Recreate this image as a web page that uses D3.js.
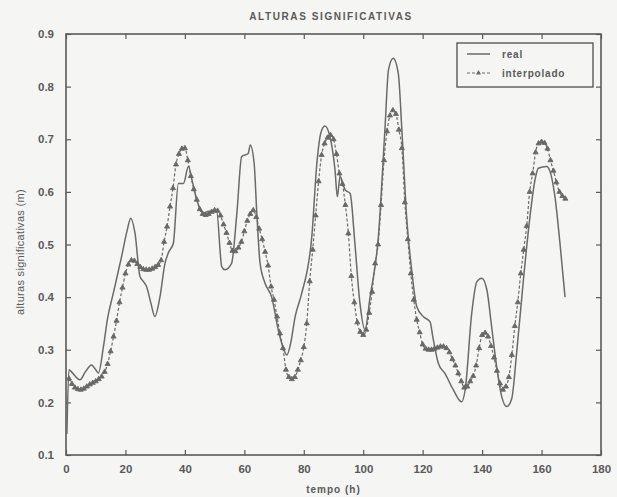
<!DOCTYPE html>
<html>
<head>
<meta charset="utf-8">
<script src="https://cdn.jsdelivr.net/npm/d3@7"></script>
<style>
  body { margin: 0; background: #f5f5f4; }
  svg { display: block; font-family: "Liberation Sans", Arial, sans-serif; }
</style>
</head>
<body>
<div class="chart"></div>
<script>
let width = 617;
let height = 497;
let margin = {top: 34, right: 16, bottom: 42, left: 66};

// real measurements: [time (h), height (m)]
let realSeries = [[0.3,0.14],[1,0.262],[2,0.257],[4.7,0.243],[6.5,0.258],[8.6,0.271],[10,0.262],[10.9,0.256],
  [12.6,0.306],[14,0.36],[15.9,0.407],[18.7,0.477],[20.5,0.525],[21.8,0.55],[23.2,0.522],[24.9,0.439],
  [26,0.43],[27.1,0.42],[28.5,0.39],[29.9,0.363],[31.6,0.40],[33.3,0.464],[34.5,0.485],[36.1,0.502],
  [37.8,0.616],[39.5,0.616],[41.2,0.648],[42.5,0.62],[44,0.585],[46.2,0.56],[48,0.563],[50.7,0.562],
  [52.4,0.458],[53.5,0.452],[55.7,0.464],[57.5,0.56],[59.1,0.667],[61.3,0.673],[62,0.689],[63.3,0.654],
  [64.2,0.559],[65.3,0.464],[67,0.426],[69.2,0.40],[71.4,0.338],[73,0.305],[74.3,0.29],[75.5,0.31],
  [77.1,0.363],[79.3,0.407],[82.7,0.515],[84.4,0.654],[85.7,0.711],[87.1,0.725],[88.8,0.705],[90.5,0.642],
  [91.3,0.591],[92.2,0.629],[93.9,0.604],[95.6,0.597],[97.2,0.502],[98.9,0.388],[100.6,0.338],[102.3,0.40],
  [105.1,0.515],[107.3,0.718],[108.5,0.832],[110.1,0.854],[111.8,0.825],[113,0.718],[114.6,0.553],[116.3,0.452],
  [118,0.382],[120.2,0.363],[122.5,0.353],[123.4,0.325],[125.3,0.274],[127.5,0.255],[130.3,0.224],[133.1,0.201],
  [134.3,0.224],[136.5,0.369],[138.2,0.429],[139.9,0.436],[141.6,0.414],[143.2,0.344],[144.9,0.268],[146.6,0.211],
  [148.3,0.192],[150,0.208],[151.6,0.293],[153.9,0.433],[156.1,0.553],[157.8,0.623],[158.9,0.645],[161.7,0.648],
  [162.9,0.638],[164.5,0.591],[166.2,0.502],[167.9,0.40]];

// interpolated values, one per hour starting at t = 1
let interpStart = 1;
let interpValues = [0.245,0.235,0.228,0.225,0.224,0.226,0.23,0.234,0.237,0.240,
  0.244,0.249,0.258,0.273,0.297,0.325,0.355,0.39,0.418,0.445,
  0.462,0.47,0.469,0.463,0.457,0.453,0.452,0.452,0.454,0.457,
  0.461,0.47,0.505,0.534,0.572,0.607,0.652,0.672,0.682,0.683,
  0.66,0.63,0.605,0.585,0.567,0.558,0.556,0.558,0.562,0.565,
  0.564,0.555,0.538,0.522,0.503,0.488,0.487,0.494,0.505,0.525,
  0.545,0.558,0.565,0.552,0.53,0.51,0.486,0.46,0.42,0.395,
  0.363,0.331,0.303,0.262,0.248,0.244,0.248,0.262,0.28,0.305,
  0.35,0.43,0.49,0.555,0.62,0.67,0.692,0.703,0.708,0.70,
  0.672,0.635,0.615,0.575,0.521,0.44,0.39,0.352,0.334,0.328,
  0.338,0.37,0.41,0.464,0.50,0.575,0.66,0.715,0.745,0.755,
  0.748,0.718,0.683,0.58,0.51,0.445,0.395,0.357,0.333,0.31,
  0.302,0.30,0.30,0.302,0.304,0.306,0.306,0.303,0.295,0.282,
  0.27,0.255,0.24,0.228,0.23,0.24,0.25,0.27,0.303,0.328,
  0.332,0.325,0.307,0.285,0.26,0.236,0.224,0.23,0.248,0.29,
  0.345,0.39,0.445,0.49,0.535,0.6,0.635,0.675,0.692,0.695,
  0.693,0.682,0.66,0.64,0.618,0.6,0.592,0.587];

let xTicks = [0,20,40,60,80,100,120,140,160,180];
let yTicks = [0.1,0.2,0.3,0.4,0.5,0.6,0.7,0.8,0.9];
let legendLabels = ['real','interpolado'];

let ink = '#5a5a5a';
let lineInk = '#6a6a6a';

let svg = d3.select('.chart').append('svg')
  .attr('width', width)
  .attr('height', height);

svg.append('rect').attr('width', width).attr('height', height).attr('fill', '#f5f5f4');

let x = d3.scaleLinear().domain([0,180]).range([margin.left, width - margin.right]);
let y = d3.scaleLinear().domain([0.1,0.9]).range([height - margin.bottom, margin.top]);

let interpSeries = interpValues.map((v,i) => [interpStart + i, v]);

// axes, ticks inward on every side
let tickFmtY = d3.format('.1f');
function styleAxis(g) {
  g.selectAll('.domain').remove();
  g.selectAll('line').attr('stroke', ink).attr('stroke-width', 1.2);
  g.selectAll('text').attr('fill', ink).style('font-size', '11.5px').style('font-weight', 'bold');
}
svg.append('g')
  .attr('transform', 'translate(0,' + y(0.1) + ')')
  .call(d3.axisBottom(x).tickValues(xTicks).tickSizeInner(-5).tickSizeOuter(0).tickPadding(10))
  .call(styleAxis);
svg.append('g')
  .attr('transform', 'translate(0,' + y(0.9) + ')')
  .call(d3.axisTop(x).tickValues(xTicks).tickSizeInner(-5).tickSizeOuter(0).tickFormat(''))
  .call(styleAxis);
svg.append('g')
  .attr('transform', 'translate(' + x(0) + ',0)')
  .call(d3.axisLeft(y).tickValues(yTicks).tickFormat(tickFmtY).tickSizeInner(-5).tickSizeOuter(0).tickPadding(12))
  .call(styleAxis);
svg.append('g')
  .attr('transform', 'translate(' + x(180) + ',0)')
  .call(d3.axisRight(y).tickValues(yTicks).tickSizeInner(-5).tickSizeOuter(0).tickFormat(''))
  .call(styleAxis);

svg.append('rect')
  .attr('x', x(0)).attr('y', y(0.9))
  .attr('width', x(180) - x(0)).attr('height', y(0.1) - y(0.9))
  .attr('fill', 'none').attr('stroke', ink).attr('stroke-width', 1.6);

let line = d3.line().x(d => x(d[0])).y(d => y(d[1])).curve(d3.curveMonotoneX);

svg.append('path')
  .datum(realSeries)
  .attr('d', line)
  .attr('fill', 'none')
  .attr('stroke', lineInk)
  .attr('stroke-width', 1.5);

svg.append('path')
  .datum(interpSeries)
  .attr('d', line)
  .attr('fill', 'none')
  .attr('stroke', lineInk)
  .attr('stroke-width', 1.2)
  .attr('stroke-dasharray', '3,2');

let tri = d3.symbol().type(d3.symbolTriangle).size(11);
svg.append('g').selectAll('path')
  .data(interpSeries)
  .enter()
  .append('path')
  .attr('d', tri)
  .attr('transform', d => 'translate(' + x(d[0]) + ',' + y(d[1]) + ')')
  .attr('fill', '#686868')
  .attr('stroke', '#686868')
  .attr('stroke-width', 0.9);

// titles
svg.append('text')
  .attr('x', 331).attr('y', 20)
  .attr('text-anchor', 'middle')
  .attr('fill', ink)
  .style('font-size', '10px').style('font-weight', 'bold').style('letter-spacing', '1.6px')
  .text('ALTURAS SIGNIFICATIVAS');
svg.append('text')
  .attr('x', (x(0) + x(180)) / 2).attr('y', 493)
  .attr('text-anchor', 'middle')
  .attr('fill', ink)
  .style('font-size', '10px').style('font-weight', 'bold').style('letter-spacing', '1px')
  .text('tempo (h)');
svg.append('text')
  .attr('transform', 'rotate(-90)')
  .attr('x', -252).attr('y', 24)
  .attr('text-anchor', 'middle')
  .attr('fill', ink)
  .style('font-size', '11px').style('letter-spacing', '0.3px')
  .text('alturas significativas (m)');

// legend
let legend = svg.append('g').attr('transform', 'translate(457,43)');
legend.append('rect')
  .attr('width', 136).attr('height', 44)
  .attr('fill', '#f5f5f4').attr('stroke', ink).attr('stroke-width', 1.4);
let rows = legend.selectAll('.legend-row')
  .data(legendLabels)
  .enter()
  .append('g')
  .attr('class', 'legend-row')
  .attr('transform', (d,i) => 'translate(0,' + (11 + i * 19) + ')');
rows.append('line')
  .attr('x1', 10).attr('x2', 33)
  .attr('stroke', lineInk)
  .attr('stroke-width', (d,i) => i == 0 ? 1.5 : 1.2)
  .attr('stroke-dasharray', (d,i) => i == 0 ? null : '3,2');
rows.filter((d,i) => i == 1)
  .append('path')
  .attr('d', tri)
  .attr('transform', 'translate(21.5,0)')
  .attr('fill', '#686868');
rows.append('text')
  .attr('x', 45).attr('dy', '0.35em')
  .attr('fill', ink)
  .style('font-size', '10px').style('font-weight', 'bold').style('letter-spacing', '0.8px')
  .text(d => d);
</script>
</body>
</html>
